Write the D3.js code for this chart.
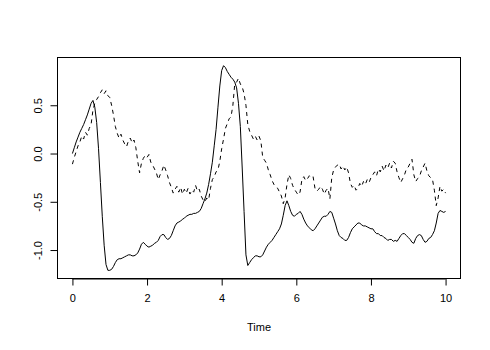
<!DOCTYPE html>
<html>
<head>
<meta charset="utf-8">
<script src="https://cdn.jsdelivr.net/npm/d3@7"></script>
<style>
  html, body { margin: 0; padding: 0; background: #fff; }
  svg { display: block; }
  text { font-family: "Liberation Sans", Arial, Helvetica, sans-serif; }
</style>
</head>
<body>
<svg id="chart" width="490" height="350"></svg>
<script>
// ---- data ----
const tStart = 0, tStep = 0.05;
const xTicks = [0, 2, 4, 6, 8, 10];
const yTicks = [-1.0, -0.5, 0.0, 0.5];
const xLabel = "Time";

const seriesSolid = [
  0.00, 0.06, 0.12, 0.17, 0.22, 0.26, 0.30, 0.35, 0.40, 0.46,
  0.52, 0.55, 0.48, 0.32, 0.05, -0.30, -0.65, -0.95, -1.15, -1.21,
  -1.21, -1.20, -1.17, -1.13, -1.10, -1.09, -1.09, -1.08, -1.07, -1.06,
  -1.05, -1.05, -1.06, -1.06, -1.05, -1.03, -0.99, -0.94, -0.92, -0.94,
  -0.96, -0.97, -0.96, -0.95, -0.93, -0.92, -0.90, -0.86, -0.84, -0.84,
  -0.87, -0.89, -0.88, -0.85, -0.80, -0.75, -0.72, -0.71, -0.70, -0.68,
  -0.67, -0.65, -0.64, -0.63, -0.63, -0.62, -0.62, -0.61, -0.60, -0.57,
  -0.52, -0.47, -0.41, -0.32, -0.21, -0.09, 0.08, 0.25, 0.48, 0.70,
  0.86, 0.91, 0.89, 0.85, 0.82, 0.79, 0.77, 0.74, 0.68, 0.52,
  0.28, -0.15, -0.60, -1.05, -1.16, -1.13, -1.10, -1.08, -1.06, -1.06,
  -1.07, -1.07, -1.05, -1.01, -0.97, -0.94, -0.92, -0.90, -0.87, -0.84,
  -0.81, -0.78, -0.73, -0.64, -0.54, -0.49, -0.54, -0.60, -0.64, -0.65,
  -0.63, -0.62, -0.60, -0.63, -0.68, -0.72, -0.75, -0.77, -0.79, -0.80,
  -0.78, -0.75, -0.72, -0.69, -0.66, -0.65, -0.65, -0.63, -0.60, -0.61,
  -0.67, -0.73, -0.80, -0.85, -0.87, -0.88, -0.90, -0.90, -0.87, -0.82,
  -0.78, -0.76, -0.74, -0.72, -0.72, -0.74, -0.75, -0.75, -0.76, -0.77,
  -0.78, -0.78, -0.81, -0.83, -0.83, -0.85, -0.85, -0.87, -0.88, -0.90,
  -0.89, -0.89, -0.91, -0.90, -0.91, -0.88, -0.85, -0.83, -0.83, -0.85,
  -0.87, -0.89, -0.92, -0.93, -0.88, -0.85, -0.84, -0.85, -0.89, -0.92,
  -0.91, -0.88, -0.87, -0.84, -0.80, -0.72, -0.62, -0.59, -0.60, -0.61,
  -0.60
];

const seriesDashed = [
  -0.11, -0.04, 0.02, 0.08, 0.12, 0.18, 0.15, 0.22, 0.19, 0.26,
  0.30, 0.45, 0.52, 0.56, 0.59, 0.63, 0.66, 0.62, 0.65, 0.60,
  0.58, 0.50, 0.40, 0.28, 0.21, 0.16, 0.20, 0.14, 0.10, 0.07,
  0.13, 0.16, 0.11, 0.14, 0.06, -0.08, -0.20, -0.10, -0.05, -0.02,
  -0.04, -0.01, -0.09, -0.12, -0.16, -0.20, -0.27, -0.22, -0.18, -0.12,
  -0.17, -0.23, -0.30, -0.35, -0.41, -0.37, -0.34, -0.40, -0.35, -0.42,
  -0.37, -0.41, -0.36, -0.42, -0.38, -0.40, -0.33, -0.39, -0.37, -0.44,
  -0.48, -0.50, -0.46, -0.48, -0.36, -0.27, -0.24, -0.19, -0.17, -0.08,
  0.05, 0.15, 0.26, 0.31, 0.36, 0.38, 0.50, 0.72, 0.74, 0.78,
  0.72, 0.69, 0.62, 0.50, 0.30, 0.23, 0.19, 0.15, 0.18, 0.14,
  0.18, 0.13, -0.04, -0.07, -0.10, -0.17, -0.22, -0.28, -0.32, -0.35,
  -0.36, -0.40, -0.44, -0.52, -0.46, -0.32, -0.22, -0.26, -0.33, -0.37,
  -0.40, -0.43, -0.40, -0.27, -0.24, -0.28, -0.26, -0.23, -0.25, -0.24,
  -0.36, -0.39, -0.37, -0.34, -0.37, -0.42, -0.38, -0.36, -0.47, -0.25,
  -0.17, -0.14, -0.12, -0.11, -0.16, -0.13, -0.17, -0.14, -0.20, -0.31,
  -0.35, -0.33, -0.38, -0.36, -0.31, -0.34, -0.29, -0.32, -0.27, -0.30,
  -0.25, -0.22, -0.19, -0.23, -0.16, -0.19, -0.13, -0.18, -0.12, -0.15,
  -0.10, -0.15, -0.08, -0.10, -0.19, -0.25, -0.30, -0.26, -0.22, -0.16,
  -0.14, -0.10, -0.06, -0.22, -0.29, -0.26, -0.24, -0.18, -0.14, -0.10,
  -0.18, -0.23, -0.25, -0.27, -0.38, -0.54, -0.46, -0.34, -0.39, -0.37,
  -0.41
];

// ---- layout ----
const box = { left: 57.5, right: 460.5, top: 57.5, bottom: 278.5 };
const svg = d3.select("#chart");

const times = seriesSolid.map((_, i) => tStart + i * tStep);
const xExt = d3.extent(times);
const allVals = seriesSolid.concat(seriesDashed);
const yExt = d3.extent(allVals);
const xPad = (xExt[1] - xExt[0]) * 0.04;
const yPad = (yExt[1] - yExt[0]) * 0.04;

const x = d3.scaleLinear().domain([xExt[0] - xPad, xExt[1] + xPad]).range([box.left, box.right]);
const y = d3.scaleLinear().domain([yExt[0] - yPad, yExt[1] + yPad]).range([box.bottom, box.top]);

// lines
const line = d3.line().x((d, i) => x(times[i])).y(d => y(d));

svg.append("path")
  .datum(seriesSolid)
  .attr("d", line)
  .attr("fill", "none")
  .attr("stroke", "#000")
  .attr("stroke-width", 1);

svg.append("path")
  .datum(seriesDashed)
  .attr("d", line)
  .attr("fill", "none")
  .attr("stroke", "#000")
  .attr("stroke-width", 1)
  .attr("stroke-dasharray", "4,4");

// box
svg.append("rect")
  .attr("x", box.left).attr("y", box.top)
  .attr("width", box.right - box.left).attr("height", box.bottom - box.top)
  .attr("fill", "none").attr("stroke", "#000").attr("stroke-width", 1);

// x axis
const gx = svg.append("g")
  .attr("transform", `translate(0,${box.bottom})`)
  .call(d3.axisBottom(x).tickValues(xTicks).tickFormat(d3.format("d")).tickSize(7).tickSizeOuter(0).tickPadding(9));
gx.select(".domain").remove();
gx.selectAll(".tick line").attr("stroke", "#000");
gx.selectAll(".tick text").attr("font-size", 11).attr("fill", "#000")
  .attr("font-family", "Liberation Sans, Arial, sans-serif");
gx.append("path")
  .attr("d", `M${x(xTicks[0])},0.5H${x(xTicks[xTicks.length-1])}`)
  .attr("stroke", "#000").attr("fill", "none");

// y axis
const gy = svg.append("g")
  .attr("transform", `translate(${box.left},0)`)
  .call(d3.axisLeft(y).tickValues(yTicks).tickFormat(d3.format(".1f")).tickSize(7).tickSizeOuter(0));
gy.select(".domain").remove();
gy.selectAll(".tick line").attr("stroke", "#000");
gy.selectAll(".tick text")
  .attr("x", null).attr("dy", null)
  .attr("text-anchor", "middle")
  .attr("transform", "translate(-16,0) rotate(-90)")
  .attr("font-size", 11).attr("fill", "#000")
  .attr("font-family", "Liberation Sans, Arial, sans-serif")
  .text(d => d3.format(".1f")(d).replace("\u2212", "-"));
gx.selectAll(".tick text").text(d => String(d));

// x label
svg.append("text")
  .attr("x", (box.left + box.right) / 2)
  .attr("y", 331)
  .attr("text-anchor", "middle")
  .attr("font-size", 11)
  .attr("fill", "#000")
  .text(xLabel);
</script>
</body>
</html>
